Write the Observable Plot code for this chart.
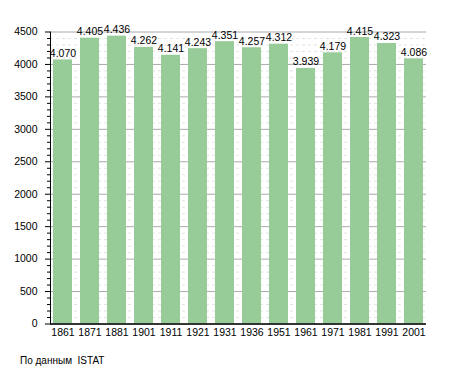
<!DOCTYPE html>
<html>
<head>
<meta charset="utf-8">
<script src="https://cdn.jsdelivr.net/npm/d3@7"></script>
<script src="https://cdn.jsdelivr.net/npm/@observablehq/plot@0.6"></script>
<style>
  body { margin: 0; background: #fff; font-family: "Liberation Sans", Arial, sans-serif; }
  #caption { position: absolute; left: 20px; top: 355px; font-size: 10px; color: #000; white-space: pre; }
</style>
</head>
<body>
<div id="chart"></div>
<div id="caption">По данным  ISTAT</div>
<script>
const years = ["1861","1871","1881","1901","1911","1921","1931","1936","1951","1961","1971","1981","1991","2001"];
const population = [4070,4405,4436,4262,4141,4243,4351,4257,4312,3939,4179,4415,4323,4086];
const majorTicks = d3.range(0, 4501, 500);
const minorTicks = d3.range(0, 4501, 100).filter(v => v % 500 !== 0);

const data = years.map((y, i) => ({year: y, value: population[i]}));
const fmt = v => (v / 1000).toFixed(3);

const chart = Plot.plot({
  width: 455,
  height: 345,
  marginTop: 31.5,
  marginBottom: 21.5,
  marginLeft: 50,
  marginRight: 29,
  style: {fontFamily: "Liberation Sans, Arial, sans-serif", fontSize: "10px", color: "#000"},
  x: {domain: years, paddingInner: 0.3, paddingOuter: 0.023, label: null},
  y: {domain: [0, 4500], label: null},
  marks: [
    Plot.ruleY(minorTicks, {stroke: "#e4e4e4", strokeWidth: 1, strokeDasharray: "3,3"}),
    Plot.ruleY(majorTicks, {stroke: "#aaaaaa", strokeWidth: 1}),
    Plot.barY(data, {x: "year", y: "value", fill: "#97cb97"}),
    Plot.text(data, {x: "year", y: "value", text: d => fmt(d.value), lineAnchor: "bottom", dy: -3, fill: "#000", fontSize: 10.5}),
    Plot.axisY(minorTicks, {tickSize: 3, text: null, stroke: "#000"}),
    Plot.axisY(majorTicks, {tickSize: 5, tickPadding: 8, stroke: "#000", fontSize: 10.5, tickFormat: d => String(d)}),
    Plot.axisX({tickSize: 0, tickPadding: 5, fontSize: 10.5}),
    Plot.frame({anchor: "left", stroke: "#000"}),
    Plot.ruleY([0], {stroke: "#000", strokeWidth: 1.5})
  ]
});
document.getElementById("chart").appendChild(chart);
</script>
</body>
</html>
